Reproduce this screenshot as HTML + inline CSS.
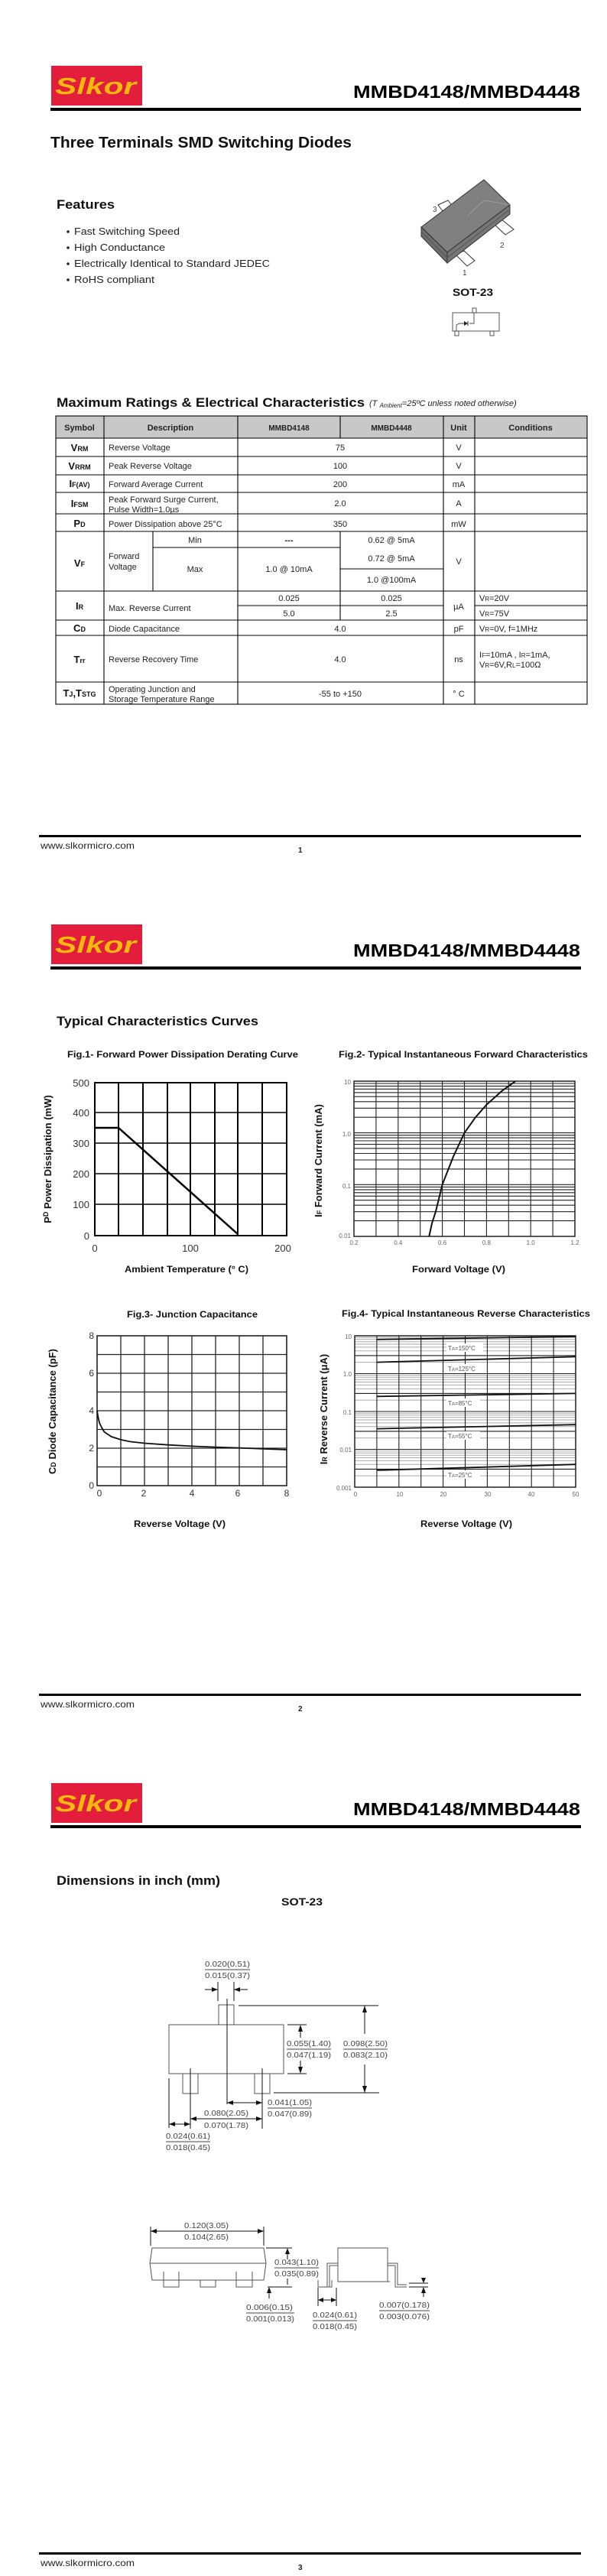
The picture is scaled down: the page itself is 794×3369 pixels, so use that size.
<!DOCTYPE html>
<html><head><meta charset="utf-8"><style>
html,body{margin:0;padding:0;background:#fff;}
svg{display:block;}
text{font-family:"Liberation Sans",Arial,sans-serif;}
.b{font-weight:bold;}
.hd{font-size:11px;font-weight:bold;fill:#222;}
.td{font-size:11px;fill:#222;}
.sym{font-size:13px;font-weight:bold;fill:#111;}
.dim{font-size:10.5px;fill:#444;}
</style></head><body>
<svg width="794" height="3369" viewBox="0 0 794 3369" xmlns="http://www.w3.org/2000/svg">
<rect width="794" height="3369" fill="#fff"/>

<!-- ===== HEADERS / FOOTERS ===== -->
<g id="hdr">
<rect x="67" y="86" width="119" height="52" fill="#e31d3c"/>
<text x="72" y="123" font-size="31" font-weight="bold" font-style="italic" fill="#f8b80e" textLength="106" lengthAdjust="spacingAndGlyphs">Slkor</text>
<text x="462" y="128" font-size="23" class="b" fill="#000" textLength="297" lengthAdjust="spacingAndGlyphs">MMBD4148/MMBD4448</text>
<rect x="66" y="141" width="694" height="4" fill="#000"/>
</g>
<g transform="translate(0,1123)">
<rect x="67" y="86" width="119" height="52" fill="#e31d3c"/>
<text x="72" y="123" font-size="31" font-weight="bold" font-style="italic" fill="#f8b80e" textLength="106" lengthAdjust="spacingAndGlyphs">Slkor</text>
<text x="462" y="128" font-size="23" class="b" fill="#000" textLength="297" lengthAdjust="spacingAndGlyphs">MMBD4148/MMBD4448</text>
<rect x="66" y="141" width="694" height="4" fill="#000"/>
</g>
<g transform="translate(0,2246)">
<rect x="67" y="86" width="119" height="52" fill="#e31d3c"/>
<text x="72" y="123" font-size="31" font-weight="bold" font-style="italic" fill="#f8b80e" textLength="106" lengthAdjust="spacingAndGlyphs">Slkor</text>
<text x="462" y="128" font-size="23" class="b" fill="#000" textLength="297" lengthAdjust="spacingAndGlyphs">MMBD4148/MMBD4448</text>
<rect x="66" y="141" width="694" height="4" fill="#000"/>
</g>

<g>
<rect x="51" y="1092" width="709" height="3" fill="#000"/>
<text x="53" y="1110" font-size="12" fill="#222" textLength="123" lengthAdjust="spacingAndGlyphs">www.slkormicro.com</text>
<text x="390" y="1115" font-size="10" class="b" fill="#222">1</text>
</g>
<g transform="translate(0,1123)">
<rect x="51" y="1092" width="709" height="3" fill="#000"/>
<text x="53" y="1110" font-size="12" fill="#222" textLength="123" lengthAdjust="spacingAndGlyphs">www.slkormicro.com</text>
<text x="390" y="1115" font-size="10" class="b" fill="#222">2</text>
</g>
<g transform="translate(0,2246)">
<rect x="51" y="1092" width="709" height="3" fill="#000"/>
<text x="53" y="1110" font-size="12" fill="#222" textLength="123" lengthAdjust="spacingAndGlyphs">www.slkormicro.com</text>
<text x="390" y="1115" font-size="10" class="b" fill="#222">3</text>
</g>

<!-- ===== PAGE 1 ===== -->
<text x="66" y="193" font-size="20" class="b" fill="#111" textLength="394" lengthAdjust="spacingAndGlyphs">Three Terminals SMD Switching Diodes</text>
<text x="74" y="273" font-size="17" class="b" fill="#111" textLength="76" lengthAdjust="spacingAndGlyphs">Features</text>
<g font-size="13" fill="#222">
<circle cx="89" cy="303" r="1.8" fill="#222"/><text x="97" y="307" textLength="138" lengthAdjust="spacingAndGlyphs">Fast Switching Speed</text>
<circle cx="89" cy="324" r="1.8" fill="#222"/><text x="97" y="328" textLength="119" lengthAdjust="spacingAndGlyphs">High Conductance</text>
<circle cx="89" cy="345" r="1.8" fill="#222"/><text x="97" y="349" textLength="256" lengthAdjust="spacingAndGlyphs">Electrically Identical to Standard JEDEC</text>
<circle cx="89" cy="366" r="1.8" fill="#222"/><text x="97" y="370" textLength="105" lengthAdjust="spacingAndGlyphs">RoHS compliant</text>
</g>

<!-- package 3D -->
<g stroke="#333" stroke-width="1">
<path d="M573 268 L586 262 L592 270 L579 276 Z" fill="#fff"/>
<path d="M645 292 L656 287 L672 300 L661 307 Z" fill="#fff"/>
<path d="M596 333 L607 328 L621 341 L611 348 Z" fill="#fff"/>
<path d="M633 235 L667 268 L585 330 L551 297 Z" fill="#808080"/>
<path d="M551 297 L585 330 L585 344 L551 309 Z" fill="#6e6e6e"/>
<path d="M585 330 L667 268 L667 280 L585 344 Z" fill="#767676"/>
<line x1="551" y1="303" x2="585" y2="337" stroke="#555"/>
<line x1="585" y1="337" x2="667" y2="274" stroke="#555"/>
</g>
<line x1="633" y1="262" x2="667" y2="268" stroke="#aaa" stroke-width="0.6"/>
<line x1="612" y1="282" x2="633" y2="262" stroke="#aaa" stroke-width="0.6"/>
<text x="566" y="277" font-size="10" fill="#444">3</text>
<text x="654" y="324" font-size="10" fill="#444">2</text>
<text x="605" y="360" font-size="10" fill="#444">1</text>
<text x="592" y="387" font-size="14" class="b" fill="#111" textLength="53" lengthAdjust="spacingAndGlyphs">SOT-23</text>
<g stroke="#444" stroke-width="0.9" fill="none">
<rect x="592" y="409" width="61" height="24"/>
<rect x="618" y="403" width="5" height="6"/>
<rect x="595" y="433" width="5" height="6"/>
<rect x="641" y="433" width="5" height="6"/>
<path d="M620 409 L620 423 L614 423 M607 423 L601 423 L597 425 L597 433"/>
</g>
<path d="M607 420 L607 426 L612 423 Z" fill="#222"/><line x1="612" y1="420" x2="612" y2="426" stroke="#222"/>

<!-- table heading -->
<text x="74" y="532" font-size="17" class="b" fill="#111" textLength="403" lengthAdjust="spacingAndGlyphs">Maximum Ratings &amp; Electrical Characteristics</text>
<text x="483" y="531" font-size="11" font-style="italic" fill="#222">(T <tspan font-size="8" dy="2">Ambient</tspan><tspan dy="-2">=25ºC unless noted otherwise)</tspan></text>

<!-- table -->
<rect x="73" y="544" width="695" height="29" fill="#c8c8c8"/>
<g stroke="#000" stroke-width="1.1" fill="none">
<rect x="73" y="544" width="695" height="377"/>
<line x1="73" y1="573" x2="768" y2="573"/>
<line x1="73" y1="597" x2="768" y2="597"/>
<line x1="73" y1="621" x2="768" y2="621"/>
<line x1="73" y1="644" x2="768" y2="644"/>
<line x1="73" y1="672" x2="768" y2="672"/>
<line x1="73" y1="695" x2="768" y2="695"/>
<line x1="73" y1="773" x2="768" y2="773"/>
<line x1="73" y1="811" x2="768" y2="811"/>
<line x1="73" y1="831" x2="768" y2="831"/>
<line x1="73" y1="892" x2="768" y2="892"/>
<line x1="136" y1="544" x2="136" y2="921"/>
<line x1="311" y1="544" x2="311" y2="921"/>
<line x1="580" y1="544" x2="580" y2="921"/>
<line x1="621" y1="544" x2="621" y2="921"/>
<line x1="445" y1="544" x2="445" y2="573"/>
<line x1="200" y1="695" x2="200" y2="773"/>
<line x1="200" y1="716" x2="445" y2="716"/>
<line x1="445" y1="695" x2="445" y2="811"/>
<line x1="445" y1="744" x2="580" y2="744"/>
<line x1="311" y1="792" x2="580" y2="792"/>
<line x1="621" y1="792" x2="768" y2="792"/>
</g>
<g class="hd" text-anchor="middle">
<text x="104" y="563">Symbol</text>
<text x="223" y="563">Description</text>
<text x="378" y="563" font-size="10">MMBD4148</text>
<text x="512" y="563" font-size="10">MMBD4448</text>
<text x="600" y="563">Unit</text>
<text x="694" y="563">Conditions</text>
</g>
<g class="sym" text-anchor="middle">
<text x="104" y="590">V<tspan font-size="9">RM</tspan></text>
<text x="104" y="614">V<tspan font-size="9">RRM</tspan></text>
<text x="104" y="637">I<tspan font-size="9">F(AV)</tspan></text>
<text x="104" y="663">I<tspan font-size="9">FSM</tspan></text>
<text x="104" y="689">P<tspan font-size="9">D</tspan></text>
<text x="104" y="741">V<tspan font-size="9">F</tspan></text>
<text x="104" y="797">I<tspan font-size="9">R</tspan></text>
<text x="104" y="826">C<tspan font-size="9">D</tspan></text>
<text x="104" y="867">T<tspan font-size="9">rr</tspan></text>
<text x="104" y="911">T<tspan font-size="9">J</tspan>,T<tspan font-size="9">STG</tspan></text>
</g>
<g class="td">
<text x="142" y="589">Reverse Voltage</text>
<text x="142" y="613">Peak Reverse Voltage</text>
<text x="142" y="637">Forward Average Current</text>
<text x="142" y="657">Peak Forward Surge Current,</text>
<text x="142" y="670">Pulse Width=1.0µs</text>
<text x="142" y="689">Power Dissipation above 25°C</text>
<text x="142" y="731">Forward</text>
<text x="142" y="745">Voltage</text>
<text x="142" y="799">Max. Reverse Current</text>
<text x="142" y="826">Diode Capacitance</text>
<text x="142" y="866">Reverse Recovery Time</text>
<text x="142" y="905">Operating Junction and</text>
<text x="142" y="918">Storage Temperature Range</text>
<text x="627" y="786">V<tspan font-size="8">R</tspan>=20V</text>
<text x="627" y="806">V<tspan font-size="8">R</tspan>=75V</text>
<text x="627" y="826">V<tspan font-size="8">R</tspan>=0V, f=1MHz</text>
<text x="627" y="860">I<tspan font-size="8">F</tspan>=10mA , I<tspan font-size="8">R</tspan>=1mA,</text>
<text x="627" y="873">V<tspan font-size="8">R</tspan>=6V,R<tspan font-size="8">L</tspan>=100Ω</text>
</g>
<g class="td" text-anchor="middle">
<text x="445" y="589">75</text>
<text x="445" y="613">100</text>
<text x="445" y="637">200</text>
<text x="445" y="662">2.0</text>
<text x="445" y="689">350</text>
<text x="255" y="710">Min</text>
<text x="255" y="748">Max</text>
<text x="378" y="710" class="b">---</text>
<text x="378" y="748">1.0 @ 10mA</text>
<text x="512" y="710">0.62 @ 5mA</text>
<text x="512" y="734">0.72 @ 5mA</text>
<text x="512" y="762">1.0 @100mA</text>
<text x="378" y="786">0.025</text>
<text x="512" y="786">0.025</text>
<text x="378" y="806">5.0</text>
<text x="512" y="806">2.5</text>
<text x="445" y="826">4.0</text>
<text x="445" y="866">4.0</text>
<text x="445" y="911">-55 to +150</text>
<text x="600" y="589">V</text>
<text x="600" y="613">V</text>
<text x="600" y="637">mA</text>
<text x="600" y="662">A</text>
<text x="600" y="689">mW</text>
<text x="600" y="738">V</text>
<text x="600" y="797">µA</text>
<text x="600" y="826">pF</text>
<text x="600" y="866">ns</text>
<text x="600" y="911">° C</text>
</g>

<!-- ===== PAGE 2 ===== -->
<text x="74" y="1341" font-size="17" class="b" fill="#111" textLength="264" lengthAdjust="spacingAndGlyphs">Typical Characteristics Curves</text>
<text x="88" y="1383" font-size="12" class="b" fill="#111" textLength="302" lengthAdjust="spacingAndGlyphs">Fig.1- Forward Power Dissipation Derating Curve</text>
<text x="443" y="1383" font-size="12" class="b" fill="#111" textLength="326" lengthAdjust="spacingAndGlyphs">Fig.2- Typical Instantaneous Forward Characteristics</text>

<!-- Fig1 -->
<g stroke="#000" stroke-width="2" fill="none">
<rect x="124" y="1416" width="251" height="200"/>
<path d="M155 1416V1616M187 1416V1616M219 1416V1616M249 1416V1616M281 1416V1616M311 1416V1616M343 1416V1616"/>
<path d="M124 1455H375M124 1495H375M124 1535H375M124 1575H375" stroke-width="1.5"/>
<path d="M124 1475 L155 1475 L311 1614" stroke-width="2.5"/>
</g>
<g font-size="13" fill="#333" text-anchor="end">
<text x="117" y="1421">500</text><text x="117" y="1460">400</text><text x="117" y="1500">300</text>
<text x="117" y="1540">200</text><text x="117" y="1580">100</text><text x="117" y="1621">0</text>
</g>
<g font-size="13" fill="#333" text-anchor="middle">
<text x="124" y="1637">0</text><text x="249" y="1637">100</text><text x="370" y="1637">200</text>
</g>
<text x="163" y="1664" font-size="12" class="b" fill="#111" textLength="162" lengthAdjust="spacingAndGlyphs">Ambient Temperature (° C)</text>
<text transform="translate(67,1516) rotate(-90)" text-anchor="middle" font-size="13" class="b" fill="#111">P<tspan font-size="9" dy="-4">D</tspan><tspan dy="4"> Power Dissipation (mW)</tspan></text>

<!-- Fig2 -->
<g stroke="#222" stroke-width="1.1" fill="none">
<rect x="463" y="1414" width="289" height="203" stroke-width="1.5"/>
<path d="M491.9 1414V1617M520.8 1414V1617M549.7 1414V1617M578.6 1414V1617M607.5 1414V1617M636.4 1414V1617M665.3 1414V1617M694.2 1414V1617M723.1 1414V1617"/>
<path d="M463 1596.6H752M463 1584.7H752M463 1576.2H752M463 1569.7H752M463 1564.3H752M463 1559.8H752M463 1555.9H752M463 1552.4H752M463 1549.3H752
M463 1528.9H752M463 1517H752M463 1508.5H752M463 1501.9H752M463 1496.6H752M463 1492H752M463 1488.1H752M463 1484.7H752M463 1481.6H752
M463 1461.2H752M463 1449.3H752M463 1440.8H752M463 1434.2H752M463 1428.9H752M463 1424.3H752M463 1420.4H752M463 1417H752"/>
<polyline points="561.3,1617 565,1600 569.9,1584.7 578.6,1549.3 593,1512.5 607.5,1481.6 622,1461.2 636.4,1444.8 656.6,1426.7 674,1414.2" stroke="#111" stroke-width="2"/>
</g>
<g font-size="8" fill="#666" text-anchor="end">
<text x="459" y="1418">10</text><text x="459" y="1486">1.0</text><text x="459" y="1554">0.1</text><text x="459" y="1619">0.01</text>
</g>
<g font-size="8" fill="#666" text-anchor="middle">
<text x="463" y="1628">0.2</text><text x="520.8" y="1628">0.4</text><text x="578.6" y="1628">0.6</text>
<text x="636.4" y="1628">0.8</text><text x="694.2" y="1628">1.0</text><text x="752" y="1628">1.2</text>
</g>
<text x="539" y="1664" font-size="12" class="b" fill="#111" textLength="122" lengthAdjust="spacingAndGlyphs">Forward Voltage (V)</text>
<text transform="translate(421,1518) rotate(-90)" text-anchor="middle" font-size="13" class="b" fill="#111">I<tspan font-size="9">F</tspan> Forward Current (mA)</text>

<!-- Fig3 -->
<text x="166" y="1723" font-size="12" class="b" fill="#111" textLength="171" lengthAdjust="spacingAndGlyphs">Fig.3- Junction Capacitance</text>
<g stroke="#222" stroke-width="1.3" fill="none">
<rect x="127" y="1747" width="248" height="196" stroke-width="1.6"/>
<path d="M158 1747V1943M189 1747V1943M220 1747V1943M251 1747V1943M282 1747V1943M313 1747V1943M344 1747V1943"/>
<path d="M127 1771.5H375M127 1796H375M127 1820.5H375M127 1845H375M127 1869.5H375M127 1894H375M127 1918.5H375"/>
<polyline points="127,1845 128.5,1854 130.1,1861 133,1867 136.3,1872.6 145.6,1878.9 158,1882.9 170,1885.4 189,1887.5 220,1889.7 251,1891.4 282,1892.6 313,1893.6 344,1894.8 375,1896" stroke="#111" stroke-width="1.8"/>
</g>
<g font-size="12" fill="#333" text-anchor="end">
<text x="123" y="1751">8</text><text x="123" y="1800">6</text><text x="123" y="1849">4</text><text x="123" y="1898">2</text><text x="123" y="1947">0</text>
</g>
<g font-size="12" fill="#333" text-anchor="middle">
<text x="130" y="1957">0</text><text x="188" y="1957">2</text><text x="251" y="1957">4</text><text x="311" y="1957">6</text><text x="375" y="1957">8</text>
</g>
<text x="175" y="1997" font-size="12" class="b" fill="#111" textLength="120" lengthAdjust="spacingAndGlyphs">Reverse Voltage (V)</text>
<text transform="translate(73,1846) rotate(-90)" text-anchor="middle" font-size="13" class="b" fill="#111">C<tspan font-size="9">D</tspan> Diode Capacitance (pF)</text>

<!-- Fig4 -->
<text x="447" y="1722" font-size="12" class="b" fill="#111" textLength="325" lengthAdjust="spacingAndGlyphs">Fig.4- Typical Instantaneous Reverse Characteristics</text>
<g fill="none">
<g stroke="#aaa" stroke-width="1">
<path d="M464 1930.1H753M464 1921.4H753M464 1915.2H753M464 1910.4H753M464 1906.5H753M464 1903.2H753M464 1900.3H753M464 1897.8H753
M464 1880.6H753M464 1871.9H753M464 1865.7H753M464 1860.9H753M464 1857H753M464 1853.7H753M464 1850.8H753M464 1848.3H753
M464 1831.1H753M464 1822.4H753M464 1816.2H753M464 1811.4H753M464 1807.5H753M464 1804.2H753M464 1801.3H753M464 1798.8H753
M464 1781.6H753M464 1772.9H753M464 1766.7H753M464 1761.9H753M464 1758H753M464 1754.7H753M464 1751.8H753M464 1749.3H753"/>
</g>
<g stroke="#222" stroke-width="1.1">
<path d="M464 1895.5H753M464 1846H753M464 1796.5H753M464 1921.4H753M464 1871.9H753M464 1822.4H753M464 1772.9H753"/>
<path d="M492.9 1747V1945M521.8 1747V1945M550.7 1747V1945M579.6 1747V1945M608.5 1747V1945M637.4 1747V1945M666.3 1747V1945M695.2 1747V1945M724.1 1747V1945"/>
<rect x="464" y="1747" width="289" height="198" stroke-width="1.5"/>
</g>
<g stroke="#111" stroke-width="1.8">
<line x1="492.9" y1="1751.8" x2="753" y2="1748"/>
<line x1="492.9" y1="1781.6" x2="753" y2="1774.4"/>
<line x1="492.9" y1="1826.3" x2="753" y2="1822.4"/>
<line x1="492.9" y1="1868.6" x2="753" y2="1863.2"/>
<line x1="492.9" y1="1922.9" x2="753" y2="1915.2"/>
</g>
</g>
<g fill="#fff">
<rect x="584" y="1757" width="48" height="11"/><rect x="584" y="1784" width="48" height="11"/>
<rect x="584" y="1829" width="44" height="11"/><rect x="584" y="1872" width="44" height="11"/>
<rect x="584" y="1923" width="44" height="11"/>
</g>
<g font-size="8" fill="#555">
<text x="586" y="1766">T<tspan font-size="6">A</tspan>=150°C</text>
<text x="586" y="1793">T<tspan font-size="6">A</tspan>=125°C</text>
<text x="586" y="1838">T<tspan font-size="6">A</tspan>=85°C</text>
<text x="586" y="1881">T<tspan font-size="6">A</tspan>=55°C</text>
<text x="586" y="1932">T<tspan font-size="6">A</tspan>=25°C</text>
</g>
<g font-size="8" fill="#666" text-anchor="end">
<text x="460" y="1751">10</text><text x="460" y="1800">1.0</text><text x="460" y="1850">0.1</text><text x="460" y="1899">0.01</text><text x="460" y="1949">0.001</text>
</g>
<g font-size="8" fill="#666" text-anchor="middle">
<text x="465" y="1957">0</text><text x="523" y="1957">10</text><text x="580" y="1957">20</text><text x="638" y="1957">30</text><text x="695" y="1957">40</text><text x="753" y="1957">50</text>
</g>
<text x="550" y="1997" font-size="12" class="b" fill="#111" textLength="120" lengthAdjust="spacingAndGlyphs">Reverse Voltage (V)</text>
<text transform="translate(428,1843) rotate(-90)" text-anchor="middle" font-size="13" class="b" fill="#111">I<tspan font-size="9">R</tspan> Reverse Current (μA)</text>

<!-- ===== PAGE 3 ===== -->
<text x="74" y="2465" font-size="17" class="b" fill="#111" textLength="214" lengthAdjust="spacingAndGlyphs">Dimensions in inch (mm)</text>
<text x="368" y="2492" font-size="14" class="b" fill="#111" textLength="54" lengthAdjust="spacingAndGlyphs">SOT-23</text>

<g stroke="#555" stroke-width="1" fill="none">
<rect x="221" y="2648" width="150" height="64"/>
<rect x="286" y="2622" width="20" height="26"/>
<rect x="239" y="2712" width="20" height="26"/>
<rect x="333" y="2712" width="20" height="26"/>
</g>
<g stroke="#111" stroke-width="1" fill="none">
<path d="M285 2592V2617M306 2592V2617M268 2602H285M306 2602H324"/>
<path d="M297 2614V2752"/>
<path d="M312 2623H495M358 2737H496M477 2623V2660M477 2700V2737"/>
<path d="M376 2648H401M376 2712H401M393 2652V2665M393 2695V2708"/>
<path d="M221 2718V2783M249 2705V2784M343 2705V2784"/>
<path d="M297 2750H343M249 2771H343M221 2778H249"/>
</g>
<g fill="#111">
<path d="M477 2623l-3 9h6z M477 2737l-3 -9h6z M393 2648l-3 9h6z M393 2712l-3 -9h6z"/>
<path d="M285 2602l-8 -3v6z M306 2602l8 -3v6z"/>
<path d="M297 2750l8 -3v6z M343 2750l-8 -3v6z M249 2771l8 -3v6z M343 2771l-8 -3v6z M221 2778l8 -3v6z M249 2778l-8 -3v6z"/>
</g>
<g class="dim">
<text x="268" y="2572" textLength="59" lengthAdjust="spacingAndGlyphs">0.020(0.51)</text>
<line x1="268" y1="2576" x2="327" y2="2576" stroke="#444"/>
<text x="268" y="2587" textLength="59" lengthAdjust="spacingAndGlyphs">0.015(0.37)</text>
<text x="375" y="2676" textLength="58" lengthAdjust="spacingAndGlyphs">0.055(1.40)</text>
<line x1="375" y1="2680" x2="433" y2="2680" stroke="#444"/>
<text x="375" y="2691" textLength="58" lengthAdjust="spacingAndGlyphs">0.047(1.19)</text>
<text x="449" y="2676" textLength="58" lengthAdjust="spacingAndGlyphs">0.098(2.50)</text>
<line x1="449" y1="2680" x2="507" y2="2680" stroke="#444"/>
<text x="449" y="2691" textLength="58" lengthAdjust="spacingAndGlyphs">0.083(2.10)</text>
<text x="350" y="2753" textLength="58" lengthAdjust="spacingAndGlyphs">0.041(1.05)</text>
<line x1="350" y1="2757" x2="408" y2="2757" stroke="#444"/>
<text x="350" y="2768" textLength="58" lengthAdjust="spacingAndGlyphs">0.047(0.89)</text>
<text x="267" y="2767" textLength="58" lengthAdjust="spacingAndGlyphs">0.080(2.05)</text>
<text x="267" y="2783" textLength="58" lengthAdjust="spacingAndGlyphs">0.070(1.78)</text>
<text x="217" y="2797" textLength="58" lengthAdjust="spacingAndGlyphs">0.024(0.61)</text>
<line x1="217" y1="2801" x2="275" y2="2801" stroke="#444"/>
<text x="217" y="2812" textLength="58" lengthAdjust="spacingAndGlyphs">0.018(0.45)</text>
</g>

<!-- side view -->
<g stroke="#555" stroke-width="1" fill="none">
<path d="M199 2940 L345 2940 L348 2960 L345 2982 L199 2982 L196 2960 Z"/>
<path d="M196 2960H348"/>
<path d="M214 2971V2991H234V2971M262 2982V2991H282V2982M309 2971V2991H330V2971"/>
<rect x="442" y="2940" width="65" height="44"/>
<path d="M442 2960H428V2991H416 M442 2963H431V2991 M507 2960H520V2988H532 M507 2963H517V2991H532"/>
<path d="M416 2982V2991H434V2982"/>
<path d="M442 2984H510"/>
</g>
<g stroke="#111" stroke-width="1" fill="none">
<path d="M197 2912V2937M345 2912V2937M197 2918H345"/>
<path d="M348 2940H382M350 2991H382M376 2944V2955M376 2980V2988"/>
<path d="M352 2994V3006M416 2992V3016M440 2992V3016M416 3008H440"/>
<path d="M535 2986H560M535 2991H560M554 2980V2984M554 2993V3004"/>
</g>
<g fill="#111">
<path d="M197 2918l8 -3v6z M345 2918l-8 -3v6z M376 2940l-3 8h6z M352 2991l-3 8h6z M416 3008l7 -3v6z M440 3008l-7 -3v6z M554 2986l-3 -7h6z M554 2991l-3 8h6z"/>
</g>
<g class="dim">
<text x="241" y="2914" textLength="58" lengthAdjust="spacingAndGlyphs">0.120(3.05)</text>
<text x="241" y="2929" textLength="58" lengthAdjust="spacingAndGlyphs">0.104(2.65)</text>
<text x="359" y="2962" textLength="58" lengthAdjust="spacingAndGlyphs">0.043(1.10)</text>
<line x1="359" y1="2966" x2="417" y2="2966" stroke="#444"/>
<text x="359" y="2977" textLength="58" lengthAdjust="spacingAndGlyphs">0.035(0.89)</text>
<text x="322" y="3021" textLength="61" lengthAdjust="spacingAndGlyphs">0.006(0.15)</text>
<line x1="322" y1="3025" x2="385" y2="3025" stroke="#444"/>
<text x="322" y="3036" textLength="63" lengthAdjust="spacingAndGlyphs">0.001(0.013)</text>
<text x="409" y="3031" textLength="58" lengthAdjust="spacingAndGlyphs">0.024(0.61)</text>
<line x1="409" y1="3035" x2="467" y2="3035" stroke="#444"/>
<text x="409" y="3046" textLength="58" lengthAdjust="spacingAndGlyphs">0.018(0.45)</text>
<text x="496" y="3018" textLength="66" lengthAdjust="spacingAndGlyphs">0.007(0.178)</text>
<line x1="496" y1="3022" x2="562" y2="3022" stroke="#444"/>
<text x="496" y="3033" textLength="66" lengthAdjust="spacingAndGlyphs">0.003(0.076)</text>
</g>
</svg>
</body></html>
